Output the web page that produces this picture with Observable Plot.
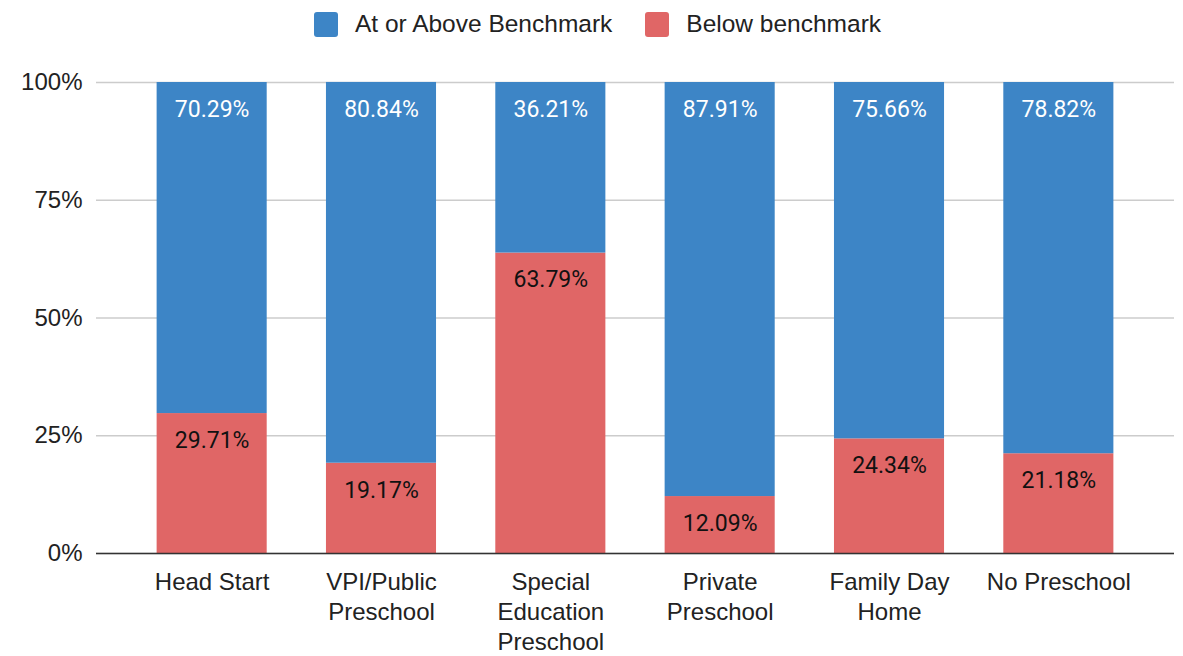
<!DOCTYPE html>
<html>
<head>
<meta charset="utf-8">
<script src="https://cdn.jsdelivr.net/npm/d3@7"></script>
<script src="https://cdn.jsdelivr.net/npm/@observablehq/plot@0.6"></script>
<style>
  html, body { margin: 0; padding: 0; background: #fff; overflow: hidden; }
  #legend { height: 48px; display: flex; justify-content: center; align-items: center;
    font-family: "Liberation Sans", Arial, sans-serif; font-size: 24.5px; color: #222; padding-left: 12px; box-sizing: border-box; width: 1183px; }
  .item { display: flex; align-items: center; }
  .item + .item { margin-left: 33px; }
  .sw { width: 24px; height: 25px; border-radius: 3px; margin-right: 17px; }
</style>
</head>
<body>
<div id="legend"></div>
<div id="chart"></div>
<script>
const categories = ["Head Start", "VPI/Public Preschool", "Special Education Preschool", "Private Preschool", "Family Day Home", "No Preschool"];
const tickLabels = ["Head Start", "VPI/Public\nPreschool", "Special\nEducation\nPreschool", "Private\nPreschool", "Family Day\nHome", "No Preschool"];
const seriesNames = ["At or Above Benchmark", "Below benchmark"];
const seriesColors = ["#3d85c6", "#e06666"];
const aboveValues = [70.29, 80.84, 36.21, 87.91, 75.66, 78.82];
const belowValues = [29.71, 19.17, 63.79, 12.09, 24.34, 21.18];
const yTicks = [0, 25, 50, 75, 100];

// legend
const legend = document.getElementById("legend");
seriesNames.forEach((name, i) => {
  const it = document.createElement("div");
  it.className = "item";
  const sw = document.createElement("div");
  sw.className = "sw";
  sw.style.background = seriesColors[i];
  const tx = document.createElement("span");
  tx.textContent = name;
  it.appendChild(sw); it.appendChild(tx);
  legend.appendChild(it);
});

const rows = [];
categories.forEach((c, i) => {
  rows.push({category: c, series: seriesNames[1], value: belowValues[i], top: belowValues[i]});
  rows.push({category: c, series: seriesNames[0], value: aboveValues[i], top: belowValues[i] + aboveValues[i]});
});
const labelOf = new Map(categories.map((c, i) => [c, tickLabels[i]]));

const chart = Plot.plot({
  width: 1183,
  height: 608,
  marginTop: 34,
  marginBottom: 103,
  marginLeft: 96,
  marginRight: 9,
  style: { fontFamily: "'Liberation Sans', Arial, sans-serif", fontSize: "24px", color: "#222", background: "#fff" },
  x: { domain: categories, paddingInner: 0.35, paddingOuter: 0.358, round: false, label: null },
  y: { domain: [0, 100], label: null },
  color: { domain: seriesNames, range: seriesColors },
  marks: [
    Plot.gridY(yTicks, { stroke: "#cccccc", strokeOpacity: 1, strokeWidth: 1.5 }),
    Plot.barY(rows, { x: "category", y: "value", fill: "series", order: null }),
    Plot.ruleY([0], { stroke: "#333", strokeWidth: 1.5 }),
    Plot.text(rows, {
      x: "category", y: "top",
      text: d => d.value.toFixed(2) + "%",
      fill: d => d.series === seriesNames[0] ? "#ffffff" : "#111111",
      dy: 27, fontSize: 23, fontFamily: "Roboto, sans-serif", lineAnchor: "middle"
    }),
    Plot.axisY(yTicks, { tickSize: 0, tickPadding: 14, tickFormat: d => d + "%", fontSize: 24, fill: "#222", label: null }),
    Plot.axisX({ tickSize: 0, tickPadding: 15, tickFormat: d => labelOf.get(d), fontSize: 24, lineHeight: 1.25, fill: "#222", label: null })
  ]
});
document.getElementById("chart").appendChild(chart);
</script>
</body>
</html>
